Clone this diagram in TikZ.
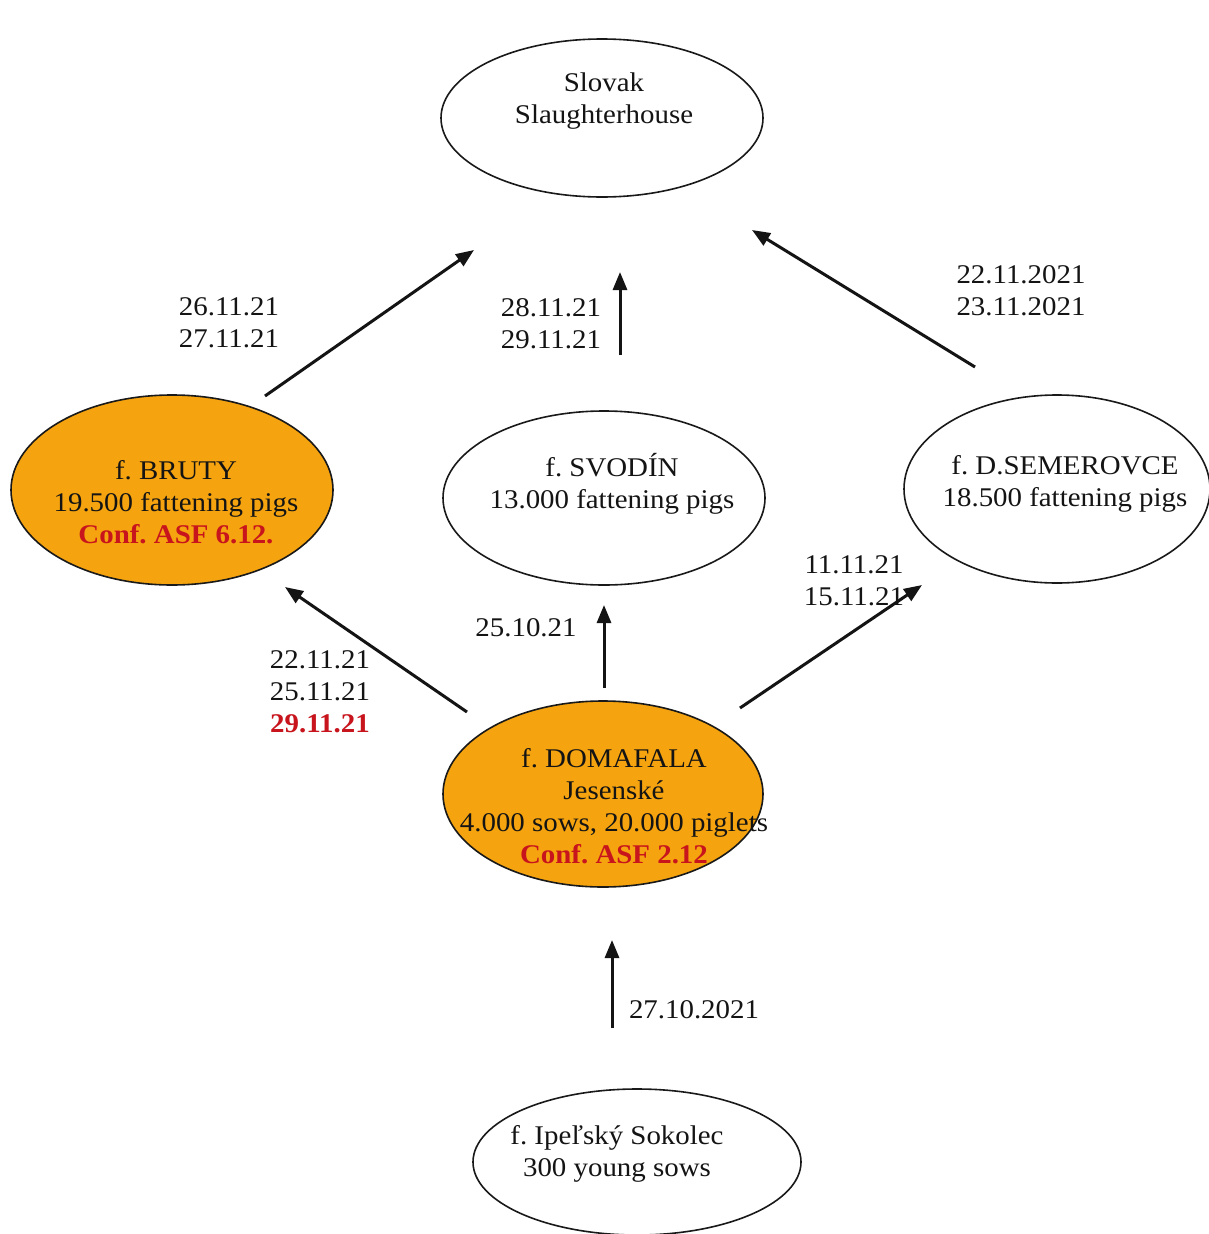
\documentclass[tikz,border=0pt]{standalone}
\usepackage{fontspec}
\setmainfont{Liberation Serif}[FakeStretch=1.07]
\usetikzlibrary{arrows.meta,shapes.geometric}
\definecolor{farmorange}{RGB}{245,163,15}
\definecolor{asfred}{RGB}{200,20,28}
\tikzset{
  farm/.style={ellipse, draw=black!90, line width=1.6pt, inner sep=0pt},
  hot/.style={farm, fill=farmorange},
  txt/.style={align=center, inner sep=0pt, text=black!92, font=\frenchspacing\fontsize{27}{32}\selectfont},
  flow/.style={line width=3pt, draw=black!92, -{Triangle[length=18pt,width=14pt]}}
}
\newcommand{\asf}[1]{\textcolor{asfred}{\bfseries #1}}
\begin{document}
\frenchspacing
\begin{tikzpicture}[x=1pt,y=-1pt]
\useasboundingbox[fill=white] (0,0) rectangle (1209,1234);
% ellipses
\node[farm, minimum width=322pt, minimum height=158pt] (sl) at (602,118) {};
\node[hot, minimum width=322pt, minimum height=190pt] (bruty) at (172,490) {};
\node[farm, minimum width=322pt, minimum height=174pt] (svodin) at (604,498) {};
\node[farm, minimum width=306pt, minimum height=188pt] (semer) at (1057,489) {};
\node[hot, minimum width=320pt, minimum height=186pt] (doma) at (603,794) {};
\node[farm, minimum width=328pt, minimum height=146pt] (ipel) at (637,1162) {};
% texts in ellipses
\node[txt] (sl-t) at (604,101) {Slovak\\Slaughterhouse};
\node[txt] (bruty-t) at (176,502) {f. BRUTY\\19.500 fattening pigs\\\asf{Conf. ASF 6.12.}};
\node[txt] (svodin-t) at (612,484) {f. SVODÍN\\13.000 fattening pigs};
\node[txt] (semer-t) at (1065,484) {f. D.SEMEROVCE\\18.500 fattening pigs};
\node[txt] (doma-t) at (614,806) {f. DOMAFALA\\Jesenské\\4.000 sows, 20.000 piglets\\\asf{Conf. ASF 2.12}};
\node[txt] (ipel-t) at (617,1154) {f. Ipeľský Sokolec\\300 young sows};
% arrow end points
\coordinate (a1s) at (265,396); \coordinate (a1e) at (474,250);
\coordinate (a2s) at (620,355); \coordinate (a2e) at (620,272);
\coordinate (a3s) at (975,367); \coordinate (a3e) at (752,230);
\coordinate (a4s) at (467,712); \coordinate (a4e) at (285,587);
\coordinate (a5s) at (604,688); \coordinate (a5e) at (604,605);
\coordinate (a6s) at (740,708); \coordinate (a6e) at (922,585);
\coordinate (a7s) at (612,1028); \coordinate (a7e) at (612,940);
% date labels
\node[txt] (d1) at (229,323) {26.11.21\\27.11.21};
\node[txt] (d2) at (551,324) {28.11.21\\29.11.21};
\node[txt] (d3) at (1021,291) {22.11.2021\\23.11.2021};
\node[txt] (d4) at (320,692) {22.11.21\\25.11.21\\\asf{29.11.21}};
\node[txt] (d5) at (526,628) {25.10.21};
\node[txt] (d6) at (854,581) {11.11.21\\15.11.21};
\node[txt] (d7) at (694,1010) {27.10.2021};
% connectors
\draw[flow] (a1s) -- (a1e);
\draw[flow] (a2s) -- (a2e);
\draw[flow] (a3s) -- (a3e);
\draw[flow] (a4s) -- (a4e);
\draw[flow] (a5s) -- (a5e);
\draw[flow] (a6s) -- (a6e);
\draw[flow] (a7s) -- (a7e);
\end{tikzpicture}
\end{document}
